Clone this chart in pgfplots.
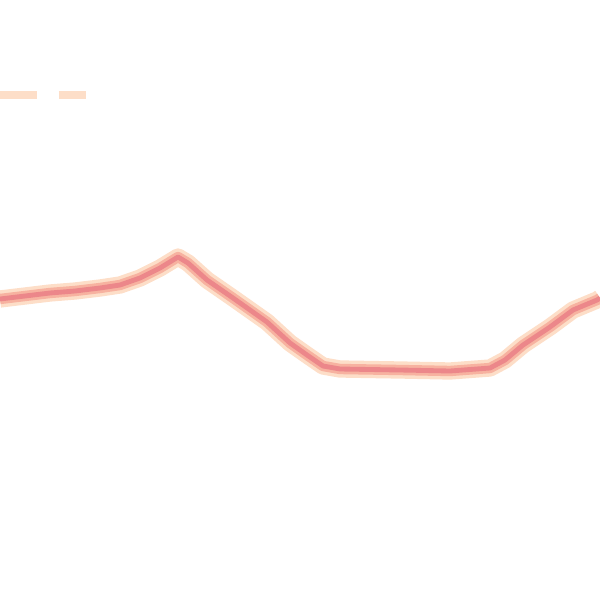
\documentclass[border=0pt]{standalone}
\usepackage{pgfplots}
\pgfplotsset{compat=1.18}
\definecolor{halo}{RGB}{253,222,200}
\definecolor{midc}{RGB}{247,178,160}
\definecolor{core}{RGB}{236,135,138}
\begin{document}
\begin{tikzpicture}
\begin{axis}[
  scale only axis, width=6in, height=6in,
  xmin=0, xmax=600, ymin=0, ymax=600, y dir=reverse,
  hide axis, clip=true,
]
\path (rel axis cs:0,0) rectangle (rel axis cs:1,1);
\addplot[halo, line width=5.5pt, dash pattern=on 26.6pt off 15.8pt] coordinates {(0,95) (86,95)};
\addplot[halo, line width=12.5pt, line join=round] coordinates {
(0,299) (25,296) (50,293) (75,291) (100,288) (120,285) (140,278) (160,268) (178,257) (188,263) (207,280) (233,298) (267,322) (290,343) (307,355) (323,366) (340,369) (400,370) (450,371) (490,368) (505,360) (523,345) (550,327) (573,310) (597,300) (600,298)};
\addplot[midc, line width=7.5pt, line join=round] coordinates {
(0,299) (25,296) (50,293) (75,291) (100,288) (120,285) (140,278) (160,268) (178,257) (188,263) (207,280) (233,298) (267,322) (290,343) (307,355) (323,366) (340,369) (400,370) (450,371) (490,368) (505,360) (523,345) (550,327) (573,310) (597,300) (600,298)};
\addplot[core, line width=3.5pt, line join=round] coordinates {
(0,299) (25,296) (50,293) (75,291) (100,288) (120,285) (140,278) (160,268) (178,257) (188,263) (207,280) (233,298) (267,322) (290,343) (307,355) (323,366) (340,369) (400,370) (450,371) (490,368) (505,360) (523,345) (550,327) (573,310) (597,300) (600,298)};
\end{axis}
\end{tikzpicture}
\end{document}
